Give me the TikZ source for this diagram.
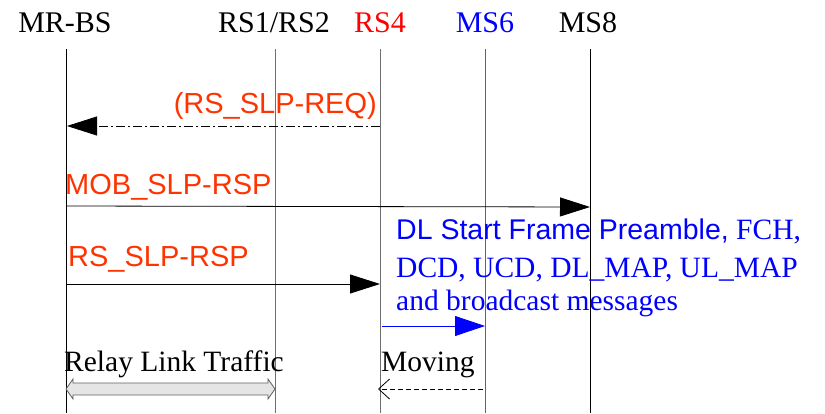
\documentclass[tikz,border=0pt]{standalone}
\usepackage{fontspec}
\setmainfont{Liberation Serif}
\newfontfamily\arial{Liberation Sans}
\usetikzlibrary{arrows.meta}
\definecolor{lblred}{RGB}{255,51,0}
\definecolor{hdrred}{RGB}{255,0,0}
\definecolor{msgblue}{RGB}{0,0,255}
\definecolor{lifeblue}{RGB}{80,80,255}
\definecolor{lifegray}{RGB}{110,110,110}
\begin{document}
\begin{tikzpicture}[x=1pt,y=-1pt,
  hdr/.style={font=\fontsize{30}{32}\selectfont, anchor=base, inner sep=0pt},
  lbl/.style={font=\arial\fontsize{29}{32}\selectfont, text=lblred, anchor=base west, inner sep=0pt},
  serif/.style={font=\fontsize{29.5}{32}\selectfont, anchor=base west, inner sep=0pt},
  life/.style={line width=0.9pt},
  msg/.style={line width=0.8pt, -{Triangle[length=30pt,width=19pt]}},
]
\useasboundingbox (0,0) rectangle (825,413);

% headers
\node[hdr] (hBS) at (65,32) {MR-BS};
\node[hdr] (hRS12) at (274,32) {RS1/RS2};
\node[hdr, text=hdrred] (hRS4) at (380,32) {RS4};
\node[hdr, text=msgblue] (hMS6) at (485,32) {MS6};
\node[hdr] (hMS8) at (588,32) {MS8};

% lifeline ends
\coordinate (tBS) at (66,49);   \coordinate (bBS) at (66,413);
\coordinate (tRS12) at (275,49); \coordinate (bRS12) at (275,413);
\coordinate (tRS4) at (380,49); \coordinate (bRS4) at (380,413);
\coordinate (tMS6) at (485,49); \coordinate (bMS6) at (485,413);
\coordinate (tMS8) at (590,49); \coordinate (bMS8) at (590,413);

\draw[life] (tBS) -- (bBS);
\draw[life, lifegray] (tRS12) -- (bRS12);
\draw[life, lifegray] (tRS4) -- (bRS4);
\draw[life, lifeblue] (tMS6) -- (bMS6);
\draw[life] (tMS8) -- (bMS8);

% message end points
\coordinate (reqS) at (380,126); \coordinate (reqE) at (67,126);
\coordinate (mobS) at (66,206);  \coordinate (mobE) at (590,207);
\coordinate (rspS) at (66,284);  \coordinate (rspE) at (380,284);
\coordinate (dlS) at (382,326);  \coordinate (dlE) at (485,326);
\coordinate (mvS) at (483,389);  \coordinate (mvE) at (378,389);

% messages
\draw[msg, dash pattern=on 9pt off 3pt on 2pt off 3pt] (reqS) -- (reqE);
\draw[msg] (mobS) -- (mobE);
\draw[msg] (rspS) -- (rspE);
\draw[msg, msgblue, -{Triangle[length=30pt,width=20pt]}] (dlS) -- (dlE);
\draw[line width=0.8pt, dash pattern=on 5pt off 3pt, -{Straight Barb[length=11pt,width=20pt]}] (mvS) -- (mvE);

% labels
\node[lbl, anchor=base east] (lreq) at (377,113) {(RS\_SLP-REQ)};
\node[lbl] (lmob) at (65,194) {MOB\_SLP-RSP};
\node[lbl] (lrsp) at (68,266) {RS\_SLP-RSP};

\node[serif, text=msgblue] (dl1) at (396,239) {{\arial\fontsize{28.5}{32}\selectfont DL Start Frame Preamble,} FCH,};
\node[serif, text=msgblue] (dl2) at (396,277) {DCD, UCD, DL\_MAP, UL\_MAP};
\node[serif, text=msgblue] (dl3) at (396,310) {and broadcast messages};

% relay link traffic
\node[serif] (lrelay) at (64,371) {Relay Link Traffic};
\draw[fill=gray!20, draw=gray!75!black, line width=0.8pt]
  (66,389) -- (73,379) -- (73,383) -- (268,383) -- (268,379) -- (275,389)
  -- (268,399) -- (268,395) -- (73,395) -- (73,399) -- cycle;

\node[serif] (lmove) at (381,371) {Moving};
\end{tikzpicture}
\end{document}
